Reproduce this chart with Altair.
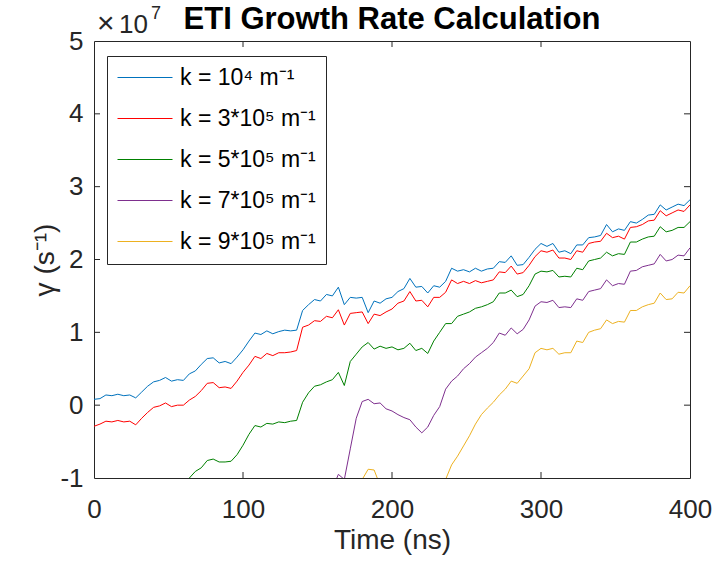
import altair as alt
import pandas as pd

TITLE = "ETI Growth Rate Calculation"
X_TITLE = "Time (ns)"
Y_TITLE = "γ (s⁻¹)"
EXP_TIMES, EXP_BASE, EXP_POWER = "×", "10", "7"
LABELS = ["k = 10⁴ m⁻¹", "k = 3*10⁵ m⁻¹", "k = 5*10⁵ m⁻¹", "k = 7*10⁵ m⁻¹", "k = 9*10⁵ m⁻¹"]
COLORS = ["#0072BD", "#FF0000", "#008000", "#7E2F8E", "#EDB120"]
X_TICKS = [0, 100, 200, 300, 400]
Y_TICKS = [-1, 0, 1, 2, 3, 4, 5]
STEP = 4  # ns between samples

# gamma values in units of 1e7 s^-1
K1_START = 0
K1 = [0.08, 0.09, 0.14, 0.13, 0.15, 0.13, 0.14, 0.10, 0.18, 0.26,
      0.32, 0.34, 0.38, 0.33, 0.35, 0.34, 0.43, 0.47, 0.56, 0.64,
      0.65, 0.58, 0.60, 0.57, 0.66, 0.76, 0.88, 0.99, 0.97, 1.02,
      0.98, 1.01, 1.03, 1.02, 1.03, 1.30, 1.38, 1.45, 1.43, 1.52,
      1.50, 1.62, 1.38, 1.48, 1.47, 1.48, 1.27, 1.43, 1.40, 1.46,
      1.48, 1.56, 1.60, 1.74, 1.62, 1.63, 1.54, 1.64, 1.62, 1.70,
      1.88, 1.84, 1.86, 1.83, 1.88, 1.84, 1.87, 1.88, 1.97, 1.96,
      2.05, 1.92, 1.93, 2.03, 2.14, 2.22, 2.18, 2.22, 2.10, 2.12,
      2.08, 2.20, 2.20, 2.30, 2.31, 2.33, 2.48, 2.38, 2.42, 2.40,
      2.52, 2.50, 2.55, 2.61, 2.62, 2.75, 2.68, 2.72, 2.76, 2.74,
      2.82]

K3_START = 0
K3 = [-0.29, -0.26, -0.22, -0.23, -0.21, -0.23, -0.22, -0.27, -0.18, -0.10,
      -0.03, -0.01, 0.03, -0.02, 0.00, 0.00, 0.07, 0.12, 0.20, 0.30,
      0.31, 0.24, 0.25, 0.23, 0.33, 0.45, 0.55, 0.67, 0.64, 0.71,
      0.68, 0.72, 0.72, 0.73, 0.75, 1.07, 1.10, 1.16, 1.15, 1.22,
      1.20, 1.31, 1.10, 1.26, 1.27, 1.28, 1.12, 1.25, 1.23, 1.28,
      1.32, 1.40, 1.43, 1.56, 1.43, 1.44, 1.35, 1.48, 1.48, 1.55,
      1.72, 1.67, 1.70, 1.67, 1.71, 1.68, 1.70, 1.72, 1.83, 1.82,
      1.91, 1.80, 1.82, 1.92, 2.04, 2.12, 2.10, 2.13, 2.02, 2.02,
      2.00, 2.12, 2.10, 2.22, 2.24, 2.25, 2.36, 2.30, 2.32, 2.28,
      2.44, 2.45, 2.48, 2.53, 2.54, 2.67, 2.60, 2.64, 2.68, 2.66,
      2.75]

K5_START = 60
K5 = [-1.10, -1.00, -0.91, -0.86, -0.76, -0.74, -0.78, -0.78, -0.77, -0.68,
      -0.55, -0.40, -0.28, -0.30, -0.25, -0.26, -0.23, -0.24, -0.22, -0.21,
      0.04, 0.17, 0.26, 0.28, 0.32, 0.35, 0.45, 0.27, 0.60, 0.70,
      0.80, 0.86, 0.77, 0.81, 0.78, 0.80, 0.76, 0.78, 0.85, 0.75,
      0.78, 0.71, 0.88, 1.00, 1.12, 1.12, 1.22, 1.25, 1.28, 1.33,
      1.35, 1.38, 1.42, 1.54, 1.54, 1.58, 1.49, 1.52, 1.64, 1.80,
      1.84, 1.83, 1.85, 1.76, 1.77, 1.76, 1.88, 1.86, 1.98, 2.00,
      2.02, 2.10, 2.05, 2.08, 2.07, 2.24, 2.24, 2.28, 2.31, 2.32,
      2.45, 2.38, 2.40, 2.44, 2.44, 2.52]

K7_START = 160
K7 = [-1.15, -0.95, -1.02, -0.60, -0.18, 0.05, 0.08, 0.02, 0.03, -0.05,
      -0.08, -0.13, -0.17, -0.20, -0.30, -0.38, -0.30, -0.14, -0.02, 0.22,
      0.33, 0.40, 0.50, 0.57, 0.66, 0.72, 0.78, 0.86, 0.99, 0.96,
      1.06, 0.98, 1.04, 1.17, 1.36, 1.42, 1.41, 1.44, 1.34, 1.35,
      1.34, 1.46, 1.44, 1.56, 1.58, 1.60, 1.72, 1.64, 1.67, 1.66,
      1.84, 1.85, 1.90, 1.92, 1.94, 2.07, 1.98, 2.00, 2.06, 2.05,
      2.16]

K9A_START = 176
K9A = [-1.10, -1.02, -0.88, -0.89, -1.10]
K9B_START = 236
K9B = [-1.02, -0.82, -0.70, -0.56, -0.42,
       -0.26, -0.13, -0.04, 0.04, 0.14, 0.22, 0.33, 0.30, 0.40, 0.50,
       0.72, 0.78, 0.76, 0.78, 0.70, 0.72, 0.72, 0.88, 0.86, 1.00,
       1.03, 1.05, 1.17, 1.12, 1.15, 1.14, 1.30, 1.30, 1.35, 1.38,
       1.40, 1.54, 1.45, 1.46, 1.55, 1.54, 1.64]

rows = []
def add(label, seg, start, vals):
    for i, v in enumerate(vals):
        rows.append({"t": start + STEP * i, "gamma": v, "k": label, "seg": seg})

add(LABELS[0], "a", K1_START, K1)
add(LABELS[1], "b", K3_START, K3)
add(LABELS[2], "c", K5_START, K5)
add(LABELS[3], "d", K7_START, K7)
add(LABELS[4], "e1", K9A_START, K9A)
add(LABELS[4], "e2", K9B_START, K9B)
df = pd.DataFrame(rows)

FONT = "Liberation Sans"
INK = "#262626"
W, H = 596, 437

XS = alt.Scale(domain=[0, 400], nice=False, zero=False)
YS = alt.Scale(domain=[-1, 5], nice=False, zero=False)
XAXIS = alt.Axis(values=X_TICKS, title=X_TITLE, domain=False, ticks=False, grid=False,
                 labelFont=FONT, labelFontSize=26, labelColor=INK, labelPadding=18,
                 labelFlush=False, titleFont=FONT, titleFontSize=28, titleFontWeight="normal",
                 titleColor=INK, titleY=70, titleBaseline="alphabetic")
YAXIS = alt.Axis(values=Y_TICKS, title=Y_TITLE, domain=False, ticks=False, grid=False,
                 labelExpr="datum.value < 0 ? '-' + abs(datum.value) : '' + datum.value",
                 labelFont=FONT, labelFontSize=26, labelColor=INK, labelPadding=11,
                 titleFont=FONT, titleFontSize=28, titleFontWeight="normal", titleColor=INK,
                 titleX=-49, titleY=H / 2, titleAngle=270, titleBaseline="middle",
                 titleAlign="center")

def xenc():
    return alt.X("t:Q", scale=XS, axis=XAXIS)

def yenc():
    return alt.Y("gamma:Q", scale=YS, axis=YAXIS)

# horizontal line sample, 55 px long, drawn to the right of the symbol slot
legend = alt.Legend(title=None, orient="none", legendX=13, legendY=15,
                    symbolType="M-1,0H4", symbolSize=484, symbolStrokeWidth=1,
                    labelFont=FONT, labelFontSize=23, labelColor="#000000",
                    labelOffset=40, rowPadding=17, padding=10, labelLimit=400,
                    strokeColor=INK, fillColor="white")

lines = alt.Chart(df).mark_line(strokeWidth=1, clip=True).encode(
    x=xenc(), y=yenc(),
    color=alt.Color("k:N", scale=alt.Scale(domain=LABELS, range=COLORS), legend=legend),
    detail="seg:N",
    order="t:Q",
)

xt = pd.DataFrame({"t": X_TICKS[1:-1]})
yt = pd.DataFrame({"gamma": Y_TICKS[1:-1]})
tick_style = dict(color=INK, strokeWidth=1)
xt_bottom = alt.Chart(xt).mark_rule(**tick_style).encode(x=xenc(), y=alt.value(H), y2=alt.value(H - 6))
xt_top = alt.Chart(xt).mark_rule(**tick_style).encode(x=xenc(), y=alt.value(0), y2=alt.value(6))
yt_left = alt.Chart(yt).mark_rule(**tick_style).encode(y=yenc(), x=alt.value(0), x2=alt.value(6))
yt_right = alt.Chart(yt).mark_rule(**tick_style).encode(y=yenc(), x=alt.value(W), x2=alt.value(W - 6))

def label(text, x, y, size, weight="normal", align="left", color=INK):
    return alt.Chart(pd.DataFrame({"s": [text]})).mark_text(
        align=align, baseline="alphabetic", font=FONT, fontSize=size,
        fontWeight=weight, color=color
    ).encode(text="s:N", x=alt.value(x), y=alt.value(y))

exp_times = label(EXP_TIMES, 3, -8, 30)
exp_base = label(EXP_BASE, 25, -8, 26)
exp_power = label(EXP_POWER, 57, -22, 18)
title = label(TITLE, W / 2, -12, 31, weight="bold", align="center", color="#000000")

chart = alt.layer(lines, xt_bottom, xt_top, yt_left, yt_right,
                  exp_times, exp_base, exp_power, title).properties(
    width=W, height=H,
    padding={"left": 94, "top": 41, "right": 27, "bottom": 91},
    autosize=alt.AutoSizeParams(type="none"),
).configure_view(stroke=INK, strokeWidth=1)

chart.save("out.html", embed_options={"renderer": "svg", "actions": False})
